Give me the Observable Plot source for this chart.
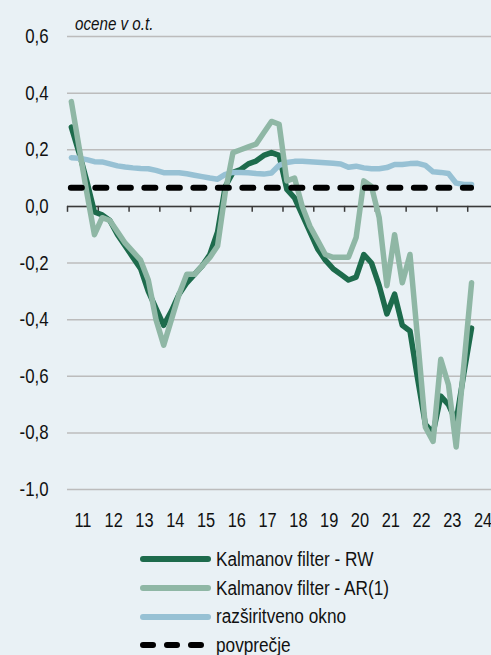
<!DOCTYPE html>
<html><head><meta charset="utf-8">
<script src="https://cdn.jsdelivr.net/npm/d3@7"></script>
<script src="https://cdn.jsdelivr.net/npm/@observablehq/plot@0.6"></script>
<style>
html,body{margin:0;padding:0;background:#e9f1f5;width:491px;height:655px;overflow:hidden;}
body{font-family:"Liberation Sans",Arial,sans-serif;color:#111;position:relative;}
#title{position:absolute;left:75px;top:9px;font-style:italic;font-size:18.5px;line-height:30px;white-space:nowrap;}
#title span{display:inline-block;transform:scaleX(0.82);transform-origin:left center;}
#chart{position:absolute;left:0;top:30px;}
#legend{position:absolute;left:0;top:545px;}
.row{display:flex;align-items:center;height:28.7px;padding-left:137px;font-size:20px;white-space:nowrap;}
.row svg{display:block;margin-right:1px;flex:none;}
.row span{display:inline-block;transform:scaleX(0.86);transform-origin:left center;}
</style></head>
<body>
<div id="title"><span>ocene v o.t.</span></div>
<div id="chart"></div>
<div id="legend"></div>
<script>
// quarterly estimates 2011Q1 .. 2024Q1
const kalmanRW = [0.28,0.19,0.09,-0.02,-0.03,-0.05,-0.10,-0.14,-0.18,-0.22,-0.30,-0.36,-0.42,-0.37,-0.31,-0.27,-0.24,-0.21,-0.17,-0.09,0.07,0.12,0.13,0.15,0.16,0.18,0.19,0.18,0.06,0.03,-0.03,-0.09,-0.15,-0.19,-0.22,-0.24,-0.26,-0.25,-0.17,-0.20,-0.28,-0.38,-0.31,-0.42,-0.44,-0.61,-0.77,-0.80,-0.67,-0.70,-0.76,-0.59,-0.43];
const kalmanAR1 = [0.37,0.21,0.05,-0.10,-0.04,-0.05,-0.09,-0.13,-0.16,-0.19,-0.26,-0.40,-0.49,-0.40,-0.31,-0.24,-0.24,-0.21,-0.18,-0.14,0.05,0.19,0.20,0.21,0.22,0.26,0.30,0.29,0.09,0.10,0.00,-0.07,-0.12,-0.17,-0.18,-0.18,-0.18,-0.11,0.09,0.07,-0.04,-0.28,-0.10,-0.27,-0.17,-0.47,-0.78,-0.83,-0.54,-0.63,-0.85,-0.56,-0.27];
const expandingWindow = [0.172,0.170,0.165,0.158,0.157,0.150,0.143,0.139,0.136,0.134,0.133,0.127,0.119,0.119,0.119,0.115,0.110,0.105,0.100,0.096,0.113,0.120,0.120,0.119,0.116,0.114,0.118,0.145,0.155,0.159,0.159,0.158,0.156,0.154,0.152,0.150,0.138,0.142,0.136,0.133,0.133,0.137,0.148,0.148,0.151,0.152,0.145,0.122,0.120,0.116,0.082,0.077,0.077];
const average = 0.066;
const years = [2011,2012,2013,2014,2015,2016,2017,2018,2019,2020,2021,2022,2023,2024];
const xTickLabels = ["11","12","13","14","15","16","17","18","19","20","21","22","23","24"];
const yTicks = [-1.0,-0.8,-0.6,-0.4,-0.2,0.0,0.2,0.4,0.6];
const seriesNames = ["Kalmanov filter - RW","Kalmanov filter - AR(1)","razširitveno okno","povprečje"];
const colors = ["#1d6b4c","#8fb7a5","#97c1d4","#000000"];

const quarterT = kalmanRW.map((_, i) => 2011 + (i + 0.5) / 4);
const rows = quarterT.map((t, i) => ({t, rw: kalmanRW[i], ar: kalmanAR1[i], ew: expandingWindow[i]}));
const font = '"Liberation Sans",Arial,sans-serif';
const yFmt = d => d3.format(".1f")(d).replace("−","-").replace(".",",");

const chart = Plot.plot({
  width: 491, height: 500,
  marginTop: 6, marginBottom: 41, marginLeft: 67, marginRight: 0,
  style: {background: "transparent", fontFamily: font, overflow: "visible", color: "#111"},
  x: {domain: [2011, 2025], range: [67, 498], label: null},
  y: {domain: [-1, 0.6], label: null},
  marks: [
    Plot.ruleY(yTicks, {x1: 2011, x2: 2025, stroke: "#bcbcbc", strokeWidth: 1.5}),
    Plot.axisY(yTicks, {tickSize: 0, tickPadding: 19, tickFormat: yFmt, fontSize: 20.5, label: null}),
    Plot.axisX(years.map(y => y + 0.5), {tickSize: 0, tickPadding: 23, fontSize: 20, label: null,
      tickFormat: d => xTickLabels[years.indexOf(Math.floor(d))]}),
    Plot.ruleY([0], {x1: 2011, x2: 2025, stroke: "#3a3a3a", strokeWidth: 1.5}),
    Plot.ruleX(years, {x: d => d, y1: 0, y2: -0.021, stroke: "#3a3a3a", strokeWidth: 1.5}),
    Plot.line(rows, {x: "t", y: "rw", stroke: colors[0], strokeWidth: 5.5, strokeLinejoin: "round", strokeLinecap: "round"}),
    Plot.line(rows, {x: "t", y: "ew", stroke: colors[2], strokeWidth: 5.5, strokeLinejoin: "round", strokeLinecap: "round"}),
    Plot.line(rows, {x: "t", y: "ar", stroke: colors[1], strokeWidth: 5.5, strokeLinejoin: "round", strokeLinecap: "round"}),
    Plot.ruleY([average], {x1: quarterT[0], x2: quarterT[quarterT.length - 1], stroke: colors[3], strokeWidth: 6, strokeDasharray: "11,13.5", strokeLinecap: "round"})
  ]
});
document.getElementById("chart").appendChild(chart);
// narrow the tick labels like the condensed face of the original
chart.querySelectorAll("text").forEach(t => {
  const w = t.getComputedTextLength();
  if (w > 0) {
    t.setAttribute("textLength", (w * 0.82).toFixed(2));
    t.setAttribute("lengthAdjust", "spacingAndGlyphs");
  }
});

const legend = document.getElementById("legend");
seriesNames.forEach((name, i) => {
  const row = document.createElement("div");
  row.className = "row";
  const dash = i === 3 ? ' stroke-dasharray="10,14"' : '';
  const x2 = i === 3 ? 65 : 71;
  row.innerHTML = `<svg width="78" height="12"><line x1="6" x2="${x2}" y1="6" y2="6" stroke="${colors[i]}" stroke-width="6" stroke-linecap="round"${dash}/></svg><span>${name}</span>`;
  legend.appendChild(row);
});
</script>
</body></html>
